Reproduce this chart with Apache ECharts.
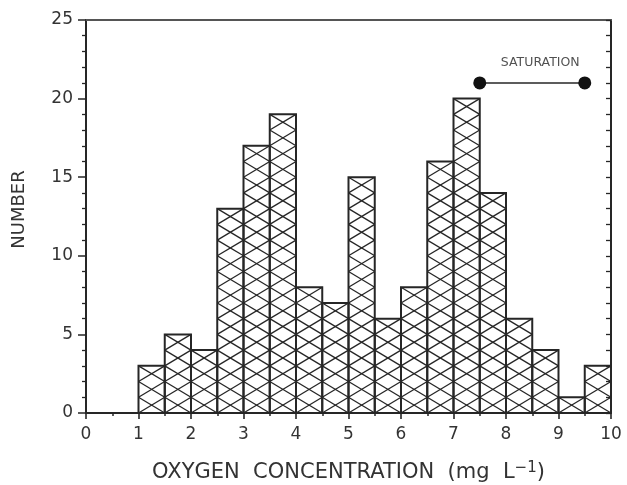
<!DOCTYPE html>
<html><head><meta charset="utf-8">
<script src="https://cdn.jsdelivr.net/npm/echarts@6/dist/echarts.min.js"></script>
<style>html,body{margin:0;padding:0;background:#fff}#c{width:627px;height:485px}</style>
</head><body><div id="c"></div>
<script>
// Histogram data
const binStarts = [1, 1.5, 2, 2.5, 3, 3.5, 4, 4.5, 5, 5.5, 6, 6.5, 7, 7.5, 8, 8.5, 9, 9.5];
const counts    = [3, 5, 4, 13, 17, 19, 8, 7, 15, 6, 8, 16, 20, 14, 6, 4, 1, 3];
const binWidth = 0.5;
// Saturation range
const saturationX = [7.5, 9.5];
const saturationY = 21;
const saturationLabel = 'SATURATION';
// Axes
const xTickLabels = ['0','1','2','3','4','5','6','7','8','9','10'];
const yTickLabels = ['0','5','10','15','20','25'];
const xTitle = 'OXYGEN  CONCENTRATION  (mg  L{sup|−1})';
const yTitle = 'NUMBER';

const INK = '#262626';
const TXT = '#333';
const FONT = 'DejaVu Sans';

const chart = echarts.init(document.getElementById('c'), null, {renderer: 'canvas'});

function renderItem(params, api) {
  const x0 = api.value(0), v = api.value(1), x1 = x0 + binWidth;
  const p = (x, y) => api.coord([x, y]);
  const children = [];
  for (let k = 0; k < v; k++) {
    const a = p(x0, k), b = p(x1, k + 1), c = p(x1, k), d = p(x0, k + 1);
    children.push({type: 'line', shape: {x1: a[0], y1: a[1], x2: b[0], y2: b[1]}, style: {stroke: INK, lineWidth: 1.3}});
    children.push({type: 'line', shape: {x1: c[0], y1: c[1], x2: d[0], y2: d[1]}, style: {stroke: INK, lineWidth: 1.3}});
  }
  children.push({type: 'polyline', shape: {points: [p(x0, 0), p(x0, v), p(x1, v), p(x1, 0)]}, style: {stroke: INK, fill: 'none', lineWidth: 2}});
  return {type: 'group', children};
}

const option = {
  backgroundColor: '#fff',
  animation: false,
  grid: {left: 86, right: 16, top: 20, bottom: 72, containLabel: false, outerBoundsMode: 'none'},
  xAxis: [{
    type: 'value', min: 0, max: 10, interval: 1, position: 'bottom',
    name: xTitle, nameLocation: 'middle', nameGap: 48,
    nameTextStyle: {fontFamily: FONT, fontSize: 21, color: TXT,
      rich: {sup: {fontFamily: FONT, fontSize: 15, color: TXT, verticalAlign: 'top', padding: [0, 0, 9, 0]}}},
    axisLine: {show: true, onZero: false, lineStyle: {color: INK, width: 2}},
    axisTick: {show: true, inside: false, length: 6, lineStyle: {color: INK, width: 1.6}},
    minorTick: {show: true, splitNumber: 2, length: 3, lineStyle: {color: INK, width: 1.5}},
    axisLabel: {fontFamily: FONT, fontSize: 17, color: TXT, margin: 13,
      formatter: v => xTickLabels[Math.round(v)]},
    splitLine: {show: false}
  }, {
    type: 'value', min: 0, max: 10, interval: 1, position: 'top',
    axisLine: {show: true, onZero: false, lineStyle: {color: '#555', width: 2}},
    axisTick: {show: false}, axisLabel: {show: false}, splitLine: {show: false}
  }],
  yAxis: [{
    type: 'value', min: 0, max: 25, interval: 5, position: 'left',
    name: yTitle, nameLocation: 'middle', nameGap: 58, nameRotate: 90,
    nameTextStyle: {fontFamily: FONT, fontSize: 18, color: TXT, padding: [0, 0, 0, 14]},
    axisLine: {show: true, onZero: false, lineStyle: {color: INK, width: 2}},
    axisTick: {show: true, inside: false, length: 8, lineStyle: {color: INK, width: 1.5}},
    minorTick: {show: true, splitNumber: 5, length: 4, lineStyle: {color: INK, width: 1.3}},
    axisLabel: {fontFamily: FONT, fontSize: 17, color: TXT, margin: 13,
      formatter: v => yTickLabels[Math.round(v / 5)]},
    splitLine: {show: false}
  }, {
    type: 'value', min: 0, max: 25, interval: 1, position: 'right',
    axisLine: {show: true, onZero: false, lineStyle: {color: INK, width: 2}},
    axisTick: {show: true, inside: true, length: 5, lineStyle: {color: INK, width: 1.3}},
    axisLabel: {show: false}, splitLine: {show: false}
  }],
  series: [{
    type: 'custom',
    renderItem: renderItem,
    xAxisIndex: 0, yAxisIndex: 0,
    data: binStarts.map((b, i) => [b, counts[i]]),
    clip: false
  }, {
    type: 'line',
    xAxisIndex: 0, yAxisIndex: 0,
    data: saturationX.map(x => [x, saturationY]),
    symbol: 'circle', symbolSize: 13,
    lineStyle: {color: INK, width: 1.5},
    itemStyle: {color: '#111'}
  }, {
    type: 'scatter',
    xAxisIndex: 0, yAxisIndex: 0,
    data: [[(saturationX[0] + saturationX[1]) / 2, saturationY]],
    symbolSize: 0,
    label: {show: true, position: 'top', distance: 14, offset: [8, 0], formatter: saturationLabel,
      fontFamily: FONT, fontSize: 12.5, color: INK}
  }]
};
chart.setOption(option);
</script></body></html>
